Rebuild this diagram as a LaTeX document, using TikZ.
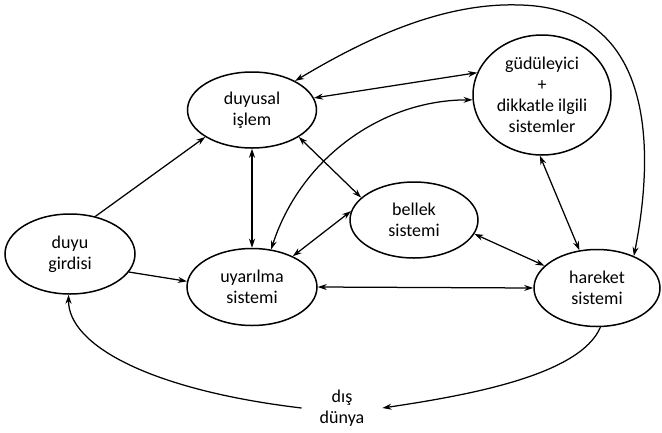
\documentclass[tikz,border=0pt]{standalone}
\usepackage{fontspec}
\setmainfont{Carlito}
\usetikzlibrary{shapes.geometric,arrows.meta}
\tikzset{
  sysnode/.style={ellipse, draw, line width=1.5pt, inner sep=0pt, align=center,
    font=\fontsize{18}{21}\selectfont},
  conn/.style={line width=1.25pt, -{Stealth[length=9pt,width=6pt]}},
  biconn/.style={line width=1.25pt, {Stealth[length=9pt,width=6pt]}-{Stealth[length=9pt,width=6pt]}},
  plain/.style={align=center, font=\fontsize{18}{21}\selectfont, inner ysep=2pt, inner xsep=18pt}
}
\begin{document}
\begin{tikzpicture}[x=1pt,y=-1pt]
\useasboundingbox (0,0) rectangle (662,432);
\node[sysnode, minimum width=130pt, minimum height=80pt] (duyu) at (70,254) {duyu\\girdisi};
\node[sysnode, minimum width=129pt, minimum height=76pt] (duyusal) at (252,110) {duyusal\\işlem};
\node[sysnode, minimum width=130pt, minimum height=77pt] (uyar) at (252,287) {uyarılma\\sistemi};
\node[sysnode, minimum width=128pt, minimum height=76pt] (bellek) at (414,220) {bellek\\sistemi};
\node[sysnode, minimum width=138pt, minimum height=120pt] (gud) at (542,95) {güdüleyici\\+\\dikkatle ilgili\\sistemler};
\node[sysnode, minimum width=126pt, minimum height=77pt] (hareket) at (597,288) {hareket\\sistemi};
\node[plain] (dis) at (342,408) {dış\\dünya};

\draw[conn] (duyu.56) -- (duyusal.210);
\draw[conn] (duyu.343) -- (uyar.175);
\draw[biconn] (duyusal.270) -- (uyar.90);
\draw[biconn] (duyusal.330) -- (bellek.157);
\draw[biconn] (duyusal.11) -- (gud.161);
\draw[biconn] (uyar.37) -- (bellek.172);
\draw[biconn] (uyar.0) -- (hareket.180);
\draw[biconn] (bellek.347) -- (hareket.157);
\draw[biconn] (gud.268) -- (hareket.115);
\draw[biconn] (uyar.63) .. controls (300,160) and (380,100) .. (gud.184);
\draw[biconn] (hareket.41) .. controls (655,150) and (655,8) .. (520,5)
   .. controls (440,2) and (360,42) .. (duyusal.34);
\draw[conn] (hareket.275) .. controls (580,375) and (470,395) .. (dis.east);
\draw[conn] (dis.west) .. controls (150,390) and (68,345) .. (duyu.268);
\end{tikzpicture}
\end{document}
